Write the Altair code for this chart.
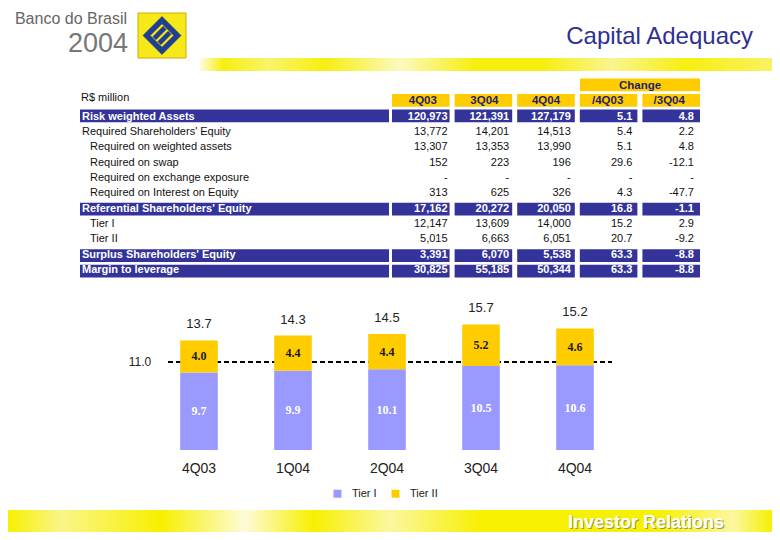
import altair as alt
import pandas as pd

W, H = 764, 524
FONT = "Liberation Sans"
BLUE = "#333399"
NAVY = "#1f1f6b"
GOLD = "#ffcc00"
LAV = "#9999ff"

# ---------------- data ----------------
row_labels = [
    "Risk weighted Assets",
    "Required Shareholders' Equity",
    "Required on weighted assets",
    "Required on swap",
    "Required on exchange exposure",
    "Required on Interest on Equity",
    "Referential Shareholders' Equity",
    "Tier I",
    "Tier II",
    "Surplus Shareholders' Equity",
    "Margin to leverage",
]
indented = [False, False, True, True, True, True, False, True, True, False, False]
highlighted = [True, False, False, False, False, False, True, False, False, True, True]
col_names = ["4Q03", "3Q04", "4Q04", "/4Q03", "/3Q04"]

v_4q03 = [120973, 13772, 13307, 152, None, 313, 17162, 12147, 5015, 3391, 30825]
v_3q04 = [121391, 14201, 13353, 223, None, 625, 20272, 13609, 6663, 6070, 55185]
v_4q04 = [127179, 14513, 13990, 196, None, 326, 20050, 14000, 6051, 5538, 50344]
chg_4q03 = [5.1, 5.4, 5.1, 29.6, None, 4.3, 16.8, 15.2, 20.7, 63.3, 63.3]
chg_3q04 = [4.8, 2.2, 4.8, -12.1, None, -47.7, -1.1, 2.9, -9.2, -8.8, -8.8]

quarters = ["4Q03", "1Q04", "2Q04", "3Q04", "4Q04"]
tier1 = [9.7, 9.9, 10.1, 10.5, 10.6]
tier2 = [4.0, 4.4, 4.4, 5.2, 4.6]
totals = [13.7, 14.3, 14.5, 15.7, 15.2]
minimum_ratio = 11.0
series = ["Tier I", "Tier II"]

# ---------------- tables built from the arrays ----------------
DASH = "-\u00a0\u00a0\u00a0"


def fmt_int(v):
    return DASH if v is None else f"{v:,}"


def fmt_pct(v):
    return DASH if v is None else f"{v:.1f}"


columns = [
    [fmt_int(v) for v in v_4q03],
    [fmt_int(v) for v in v_3q04],
    [fmt_int(v) for v in v_4q04],
    [fmt_pct(v) for v in chg_4q03],
    [fmt_pct(v) for v in chg_3q04],
]
cells = pd.DataFrame(
    [
        {"row": lab, "col": col_names[j], "txt": columns[j][i], "hl": highlighted[i]}
        for i, lab in enumerate(row_labels)
        for j in range(len(col_names))
    ]
)
rows_df = pd.DataFrame({"row": row_labels, "indent": indented, "hl": highlighted})
head_df = pd.DataFrame({"row": ["Header"] * len(col_names), "col": col_names})
change_df = pd.DataFrame({"row": ["Change"], "txt": ["Change"]})

bars_df = pd.DataFrame(
    {
        "quarter": quarters * 2,
        "tier": [series[0]] * len(quarters) + [series[1]] * len(quarters),
        "value": tier1 + tier2,
        "ord": [0] * len(quarters) + [1] * len(quarters),
    }
)
lab_df = pd.DataFrame({"quarter": quarters, "t1": tier1, "t2": tier2, "total": totals})
min_df = pd.DataFrame({"v": [minimum_ratio]})
one = pd.DataFrame({"k": [0]})

# ---------------- scales ----------------
tbl_rows = ["Change", "Header"] + row_labels
tbl_y = alt.Scale(domain=tbl_rows, range=[70.5, 269.5], paddingInner=0.18, paddingOuter=0)
tbl_x = alt.Scale(domain=col_names, range=[384, 692], paddingInner=0.08, paddingOuter=0)
bar_x = alt.Scale(domain=quarters, range=[144, 614], paddingInner=0.6, paddingOuter=0.3)
bar_y = alt.Scale(domain=[0, 20], range=[442, 282], nice=False, zero=True)
HALF_BAND = 308 / (5 - 0.08) * (1 - 0.08) / 2


def Y_row(field="row:N"):
    return alt.Y(field, scale=tbl_y, axis=None)


def X_col(field="col:N"):
    return alt.X(field, scale=tbl_x, axis=None)


def label(txt, x, y, **kw):
    return alt.Chart(one).mark_text(text=txt, font=kw.pop("font", FONT), **kw).encode(
        x=alt.value(x), y=alt.value(y)
    )


layers = []

# ---------------- decorative header ----------------
top_band = alt.Chart(one).mark_rect(
    fill=alt.LinearGradient(
        gradient="linear", x1=0, x2=1, y1=0, y2=0,
        stops=[
            alt.GradientStop(color="#fffbe0", offset=0),
            alt.GradientStop(color="#f6ef10", offset=0.04),
            alt.GradientStop(color="#f9f46a", offset=0.12),
            alt.GradientStop(color="#f6ef10", offset=0.22),
            alt.GradientStop(color="#fcf9c0", offset=0.35),
            alt.GradientStop(color="#f6ef10", offset=0.48),
            alt.GradientStop(color="#f6ef10", offset=0.6),
            alt.GradientStop(color="#faf590", offset=0.72),
            alt.GradientStop(color="#f6ef10", offset=0.85),
            alt.GradientStop(color="#f9f260", offset=1),
        ],
    )
).encode(x=alt.value(192), x2=alt.value(764), y=alt.value(50), y2=alt.value(63))

foot_band = alt.Chart(one).mark_rect(
    fill=alt.LinearGradient(
        gradient="linear", x1=0, x2=1, y1=0, y2=0,
        stops=[
            alt.GradientStop(color="#f7f000", offset=0),
            alt.GradientStop(color="#faf58a", offset=0.07),
            alt.GradientStop(color="#f7f000", offset=0.2),
            alt.GradientStop(color="#fdfbd8", offset=0.31),
            alt.GradientStop(color="#f7f000", offset=0.4),
            alt.GradientStop(color="#fbf7a0", offset=0.5),
            alt.GradientStop(color="#f7f000", offset=0.62),
            alt.GradientStop(color="#f7f000", offset=0.85),
            alt.GradientStop(color="#fbf7a0", offset=0.95),
            alt.GradientStop(color="#f7f000", offset=1),
        ],
    )
).encode(x=alt.value(0), x2=alt.value(764), y=alt.value(502), y2=alt.value(524))

logo_box = alt.Chart(one).mark_rect(fill="#f7e81a", stroke="#c9b000", strokeWidth=1).encode(
    x=alt.value(130), x2=alt.value(178), y=alt.value(5), y2=alt.value(50)
)
logo_path = (
    "M0,-1L1,0L0,1L-1,0Z"
    "M0,-0.62L-0.62,0L0,0.62L0.62,0Z"
    "M-0.48,0.06L0.06,-0.48L0.22,-0.32L-0.32,0.22Z"
    "M0.48,-0.06L-0.06,0.48L-0.22,0.32L0.32,-0.22Z"
)
logo_mark = alt.Chart(one).mark_point(
    shape=logo_path, filled=True, fill="#1f3f95", stroke="#0f2a70", strokeWidth=0.5,
    size=1450, opacity=1,
).encode(x=alt.value(154), y=alt.value(27.5))

layers += [top_band, foot_band, logo_box, logo_mark]
layers += [
    label("Banco do Brasil", 119, 11, fontSize=16, color="#666666", align="right", baseline="middle"),
    label("2004", 120, 36, fontSize=27, color="#777777", align="right", baseline="middle"),
    label("Capital Adequacy", 745, 29, fontSize=24, color="#2e3192", align="right", baseline="middle"),
    label("Investor Relations", 561, 516, fontSize=18, fontWeight="bold", color="#9a9a60", align="left", baseline="middle"),
    label("Investor Relations", 560, 515, fontSize=18, fontWeight="bold", color="#ffffff", align="left", baseline="middle"),
]

# ---------------- table ----------------
hl_label_rect = alt.Chart(rows_df).transform_filter("datum.hl").mark_rect(color=BLUE).encode(
    x=alt.value(72), x2=alt.value(381), y=Y_row()
)
hl_cell_rect = alt.Chart(cells).transform_filter("datum.hl").mark_rect(color=BLUE).encode(
    x=X_col(), y=Y_row()
)
head_rect = alt.Chart(head_df).mark_rect(color=GOLD).encode(x=X_col(), y=Y_row())
change_rect = alt.Chart(change_df).mark_rect(color=GOLD).encode(
    x=alt.value(572), x2=alt.value(692), y=Y_row()
)
head_text = alt.Chart(head_df).mark_text(
    font=FONT, fontSize=11.5, fontWeight="bold", color=NAVY, baseline="middle"
).encode(x=X_col(), y=Y_row(), text="col:N")
change_text = alt.Chart(change_df).mark_text(
    font=FONT, fontSize=11.5, fontWeight="bold", color=NAVY, baseline="middle"
).encode(x=alt.value(632), y=Y_row(), text="txt:N")

lab_hl = alt.Chart(rows_df).transform_filter("datum.hl").mark_text(
    font=FONT, fontSize=11, fontWeight="bold", color="white", align="left", baseline="middle"
).encode(x=alt.value(74), y=Y_row(), text="row:N")
lab_main = alt.Chart(rows_df).transform_filter("!datum.hl && !datum.indent").mark_text(
    font=FONT, fontSize=11, color="#111111", align="left", baseline="middle"
).encode(x=alt.value(74), y=Y_row(), text="row:N")
lab_ind = alt.Chart(rows_df).transform_filter("datum.indent").mark_text(
    font=FONT, fontSize=11, color="#111111", align="left", baseline="middle"
).encode(x=alt.value(82), y=Y_row(), text="row:N")

val_hl = alt.Chart(cells).transform_filter("datum.hl").mark_text(
    font=FONT, fontSize=11, fontWeight="bold", color="white", align="right", baseline="middle",
    dx=HALF_BAND - 4,
).encode(x=X_col(), y=Y_row(), text="txt:N")
val_plain = alt.Chart(cells).transform_filter("!datum.hl").mark_text(
    font=FONT, fontSize=11, color="#111111", align="right", baseline="middle",
    dx=HALF_BAND - 4,
).encode(x=X_col(), y=Y_row(), text="txt:N")

layers += [hl_label_rect, hl_cell_rect, head_rect, change_rect, head_text, change_text,
           lab_hl, lab_main, lab_ind, val_hl, val_plain,
           label("R$ million", 73, 90, fontSize=11, color="#111111", align="left", baseline="middle")]

# ---------------- bar chart ----------------
min_rule = alt.Chart(min_df).mark_rule(color="black", strokeWidth=2, strokeDash=[5, 3]).encode(
    x=alt.value(160), x2=alt.value(604), y=alt.Y("v:Q", scale=bar_y, axis=None)
)
min_text = alt.Chart(min_df).mark_text(
    font=FONT, fontSize=12, color="#222222", baseline="middle"
).encode(x=alt.value(132), y=alt.Y("v:Q", scale=bar_y, axis=None),
         text=alt.Text("v:Q", format=".1f"))

bars = alt.Chart(bars_df).mark_bar().encode(
    x=alt.X("quarter:N", scale=bar_x, axis=None),
    y=alt.Y("value:Q", stack="zero", scale=bar_y, axis=None),
    order=alt.Order("ord:Q"),
    color=alt.Color(
        "tier:N",
        scale=alt.Scale(domain=series, range=[LAV, GOLD]),
        legend=alt.Legend(
            title=None, orient="none", legendX=324, legendY=480, direction="horizontal",
            symbolType="square", symbolSize=64, symbolStrokeWidth=0,
            labelFont=FONT, labelFontSize=11, labelColor="#222222",
            labelOffset=9, columnPadding=13, padding=0,
        ),
    ),
)
t1_text = alt.Chart(lab_df).transform_calculate(mid="datum.t1 / 2").mark_text(
    font="Liberation Serif", fontSize=12, fontWeight="bold", color="white", baseline="middle"
).encode(x=alt.X("quarter:N", scale=bar_x, axis=None),
         y=alt.Y("mid:Q", scale=bar_y, axis=None),
         text=alt.Text("t1:Q", format=".1f"))
t2_text = alt.Chart(lab_df).transform_calculate(mid="datum.t1 + datum.t2 / 2").mark_text(
    font="Liberation Serif", fontSize=12, fontWeight="bold", color="#1a1a1a", baseline="middle"
).encode(x=alt.X("quarter:N", scale=bar_x, axis=None),
         y=alt.Y("mid:Q", scale=bar_y, axis=None),
         text=alt.Text("t2:Q", format=".1f"))
tot_text = alt.Chart(lab_df).mark_text(
    font=FONT, fontSize=13, color="#222222", baseline="bottom", dy=-9
).encode(x=alt.X("quarter:N", scale=bar_x, axis=None),
         y=alt.Y("total:Q", scale=bar_y, axis=None),
         text=alt.Text("total:Q", format=".1f"))
cat_text = alt.Chart(lab_df).mark_text(
    font=FONT, fontSize=14, color="#222222", baseline="middle"
).encode(x=alt.X("quarter:N", scale=bar_x, axis=None), y=alt.value(461), text="quarter:N")

layers += [min_rule, min_text, bars, t1_text, t2_text, tot_text, cat_text]

chart = (
    alt.layer(*layers)
    .resolve_scale(x="independent", y="independent", color="independent")
    .properties(width=W, height=H, padding=0, autosize=alt.AutoSizeParams(type="none"))
    .configure_view(stroke=None)
)

chart.save("out.html", embed_options={"renderer": "svg", "actions": False})
